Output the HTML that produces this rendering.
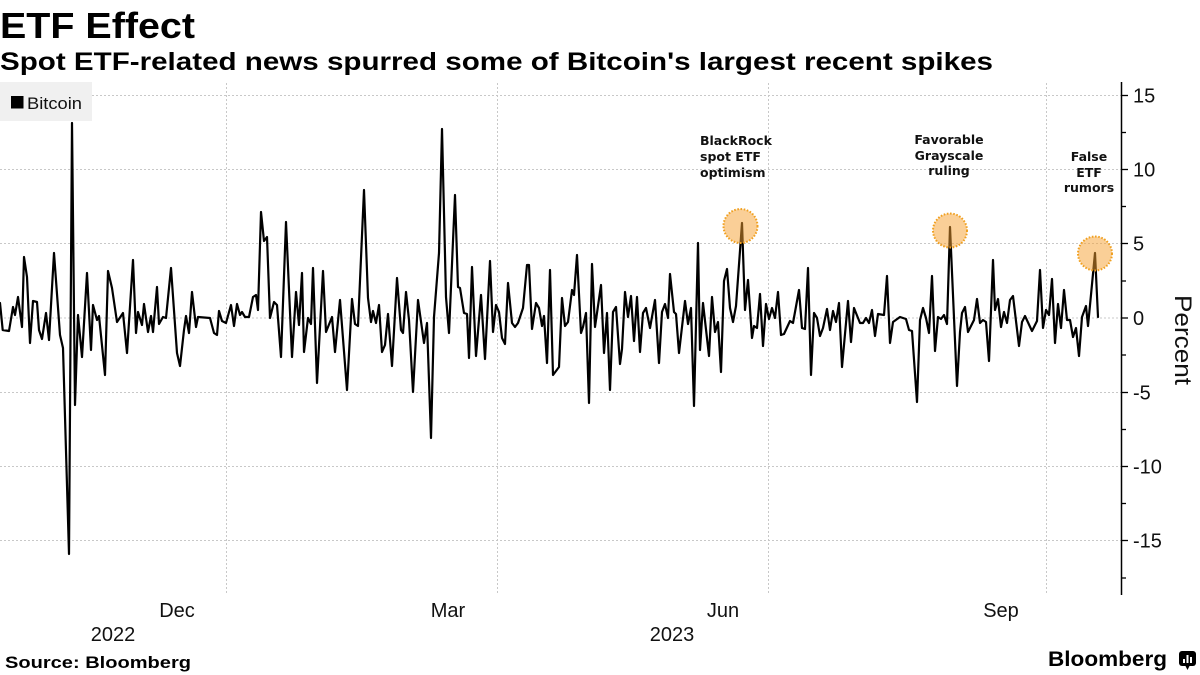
<!DOCTYPE html>
<html>
<head>
<meta charset="utf-8">
<style>
  html,body{margin:0;padding:0;background:#fff;}
  svg{display:block;}
</style>
</head>
<body>
<svg width="1200" height="675" viewBox="0 0 1200 675" xmlns="http://www.w3.org/2000/svg">
  <rect width="1200" height="675" fill="#ffffff"/>

  <!-- Title & subtitle -->
  <text x="0" y="38" font-family="Liberation Sans, sans-serif" font-weight="bold" font-size="36" fill="#000" textLength="195" lengthAdjust="spacingAndGlyphs">ETF Effect</text>
  <text x="0" y="70" font-family="Liberation Sans, sans-serif" font-weight="bold" font-size="25" fill="#000" textLength="993" lengthAdjust="spacingAndGlyphs">Spot ETF-related news spurred some of Bitcoin's largest recent spikes</text>

  <!-- Horizontal gridlines -->
  <g stroke="#c8c8c8" stroke-width="1" stroke-dasharray="2,2" fill="none">
    <line x1="0" y1="95.5" x2="1121" y2="95.5"/>
    <line x1="0" y1="169.5" x2="1121" y2="169.5"/>
    <line x1="0" y1="243.5" x2="1121" y2="243.5"/>
    <line x1="0" y1="318" x2="1121" y2="318"/>
    <line x1="0" y1="392.5" x2="1121" y2="392.5"/>
    <line x1="0" y1="466.5" x2="1121" y2="466.5"/>
    <line x1="0" y1="540.5" x2="1121" y2="540.5"/>
  </g>
  <!-- Vertical gridlines -->
  <g stroke="#c8c8c8" stroke-width="1" stroke-dasharray="2,2" fill="none">
    <line x1="226.5" y1="83" x2="226.5" y2="595"/>
    <line x1="497.5" y1="83" x2="497.5" y2="595"/>
    <line x1="768.5" y1="83" x2="768.5" y2="595"/>
    <line x1="1046.5" y1="83" x2="1046.5" y2="595"/>
  </g>

  <!-- Legend -->
  <rect x="0" y="82" width="92" height="39" fill="#f0f0f0"/>
  <rect x="11" y="96" width="12.5" height="12.5" fill="#000"/>
  <text x="27" y="109" font-family="Liberation Sans, sans-serif" font-size="17" fill="#111" textLength="55" lengthAdjust="spacingAndGlyphs">Bitcoin</text>

  <!-- Data line -->
  <polyline fill="none" stroke="#000" stroke-width="2.2" stroke-linejoin="round" stroke-linecap="round" points="
0,303 2.7,330 9,331 13,307 15,315 18,297 22,327 24,257 27,277 30,343 33,301 37,302 39,330 42,339 46,313 49,340 54,253 60,335 63,348 69,554 72,123 75,405 78,315 82,357 87,273 91,350 93,305 97,320 99,316 105,375 108,271 112,288 117,322 123,313 127,353 133,260 136,333 138,312 142,325 144,304 148,332 151,316 153,332 157,287 159,324 163,317 166,318 171,268 177,353 180,366 184,330 186,316 189,333
192,292 196,327 198,317 210,318 214,333 217,335 219,311 222,321 226,323 231,305 234,326 237,304 240,315 242,312 245,317 249,317 253,297 256,295 258,310 261,212 264,241 267,237 270,318 274,302 277,305 281,357 286,222 292,357 296,292 299,325 302,273 304,352 308,318 311,324 313,268 317,383 323,271 326,332 332,317 335,352 340,300 347,390 352,299 355,324 358,326 364,190 368,298 371,322
373,311 376,323 379,305 382,352 385,345 388,314 392,366 397,278 401,330 403,333 406,292 409,320 413,392 418,300 424,343 427,323 431,438 434,317 439,253 442,129 446,297 449,333 455,195 458,287 460,288 464,313 467,314 469,358 472,267 476,356 481,295 485,359 490,261 493,332 496,305 499,312 502,338 505,344 508,283 512,323 515,327 518,323 523,308 527,265 529,265 532,329 536,303 539,308 542,326 544,316 547,363 550,270 553,375
559,367 562,298 565,326 568,322 572,290 574,295 577,255 581,333 583,327 586,313 589,403 592,264 595,327 601,285 604,353 607,313 610,390 613,312 616,307 620,364 622,349 625,292 628,317 631,296 634,341 637,297 640,352 643,313 646,308 650,328 655,300 659,363 662,312 665,304 668,318 670,274 674,312 676,314 679,353 685,301 688,324 691,308 694,406 698,243 700,350 703,303 709,356 712,297 715,332 718,322 721,372 724,281 727,269 730,308 733,322 736,306 742,223 745,310
748,280 752,338 754,326 757,328 760,294 763,346 766,304 769,319 772,308 775,318 778,292 781,335 784,334 790,321 793,323 799,290 802,328 805,329 808,268 811,375 814,313 817,318 820,336 823,328 827,309 830,330 833,311 836,322 839,303 842,367 848,301 851,342 854,308 860,323 863,323 866,318 869,323 872,310 875,336 878,314 884,315 887,276 890,343 893,322 900,317 906,319 909,330 912,331 917,402 920,320 923,308 926,318 929,333
932,276 935,351 938,317 941,319 944,315 947,324 950,227 957,386 960,332 962,313 965,307 968,332 974,320 977,299 980,323 983,320 986,322 989,361 993,260 995,310 998,299 1001,327 1004,312 1007,323 1010,300 1013,296 1019,346 1022,322 1025,316 1032,331 1037,321 1040,270 1043,328 1046,310 1049,315 1052,279 1055,343 1058,304 1061,328 1064,290 1067,320 1070,320 1073,337 1076,328 1079,356 1082,317 1086,306 1088,326 1095,253 1098,317"/>

  <!-- Highlight circles -->
  <g fill="#f5a030" fill-opacity="0.5" stroke="#f0a020" stroke-width="2" stroke-dasharray="1.6,1.6">
    <circle cx="740.5" cy="226" r="17"/>
    <circle cx="950" cy="230.5" r="17"/>
    <circle cx="1095" cy="253.5" r="17"/>
  </g>

  <!-- Annotations -->
  <g font-family="DejaVu Sans, Verdana, sans-serif" font-weight="bold" font-size="12.5" fill="#111">
    <text x="700" y="145">BlackRock</text>
    <text x="700" y="161">spot ETF</text>
    <text x="700" y="177">optimism</text>
    <text x="949" y="144" text-anchor="middle">Favorable</text>
    <text x="949" y="160" text-anchor="middle">Grayscale</text>
    <text x="949" y="175" text-anchor="middle">ruling</text>
    <text x="1089" y="161" text-anchor="middle">False</text>
    <text x="1089" y="177" text-anchor="middle">ETF</text>
    <text x="1089" y="192" text-anchor="middle">rumors</text>
  </g>

  <!-- Right axis -->
  <line x1="1121.5" y1="82" x2="1121.5" y2="595" stroke="#000" stroke-width="1.5"/>
  <g stroke="#000" stroke-width="1.3">
    <line x1="1121" y1="95.5" x2="1128" y2="95.5"/>
    <line x1="1121" y1="169.5" x2="1128" y2="169.5"/>
    <line x1="1121" y1="243.5" x2="1128" y2="243.5"/>
    <line x1="1121" y1="318" x2="1128" y2="318"/>
    <line x1="1121" y1="392.5" x2="1128" y2="392.5"/>
    <line x1="1121" y1="466.5" x2="1128" y2="466.5"/>
    <line x1="1121" y1="540.5" x2="1128" y2="540.5"/>
    <line x1="1121" y1="132.5" x2="1126" y2="132.5"/>
    <line x1="1121" y1="206.5" x2="1126" y2="206.5"/>
    <line x1="1121" y1="281" x2="1126" y2="281"/>
    <line x1="1121" y1="355" x2="1126" y2="355"/>
    <line x1="1121" y1="429.5" x2="1126" y2="429.5"/>
    <line x1="1121" y1="503.5" x2="1126" y2="503.5"/>
    <line x1="1121" y1="578" x2="1126" y2="578"/>
  </g>
  <g font-family="Liberation Sans, sans-serif" font-size="20" fill="#111">
    <text x="1133" y="102.5">15</text>
    <text x="1133" y="176.5">10</text>
    <text x="1133" y="250.5">5</text>
    <text x="1133" y="325">0</text>
    <text x="1133" y="399.5">-5</text>
    <text x="1133" y="473.5">-10</text>
    <text x="1133" y="547.5">-15</text>
  </g>
  <text transform="translate(1175,340) rotate(90)" text-anchor="middle" font-family="Liberation Sans, sans-serif" font-size="24" fill="#111" textLength="90" lengthAdjust="spacingAndGlyphs">Percent</text>

  <!-- X axis labels -->
  <g font-family="Liberation Sans, sans-serif" font-size="20" fill="#111" text-anchor="middle">
    <text x="177" y="617">Dec</text>
    <text x="448" y="617">Mar</text>
    <text x="723" y="617">Jun</text>
    <text x="1001" y="617">Sep</text>
    <text x="113" y="641">2022</text>
    <text x="672" y="641">2023</text>
  </g>

  <!-- Footer -->
  <text x="5" y="668" font-family="Liberation Sans, sans-serif" font-weight="bold" font-size="17" fill="#000" textLength="186" lengthAdjust="spacingAndGlyphs">Source: Bloomberg</text>
  <text x="1048" y="666" font-family="Liberation Sans, sans-serif" font-weight="bold" font-size="21" fill="#000" textLength="119" lengthAdjust="spacingAndGlyphs">Bloomberg</text>
  <g>
    <rect x="1179" y="651" width="17" height="15" rx="3" fill="#000"/>
    <polygon points="1185,665 1190,665 1187.5,670" fill="#000"/>
    <rect x="1183" y="659" width="2" height="4" fill="#fff"/>
    <rect x="1186.5" y="655" width="2" height="8" fill="#fff"/>
    <rect x="1190" y="657" width="2" height="6" fill="#fff"/>
  </g>
</svg>
</body>
</html>
